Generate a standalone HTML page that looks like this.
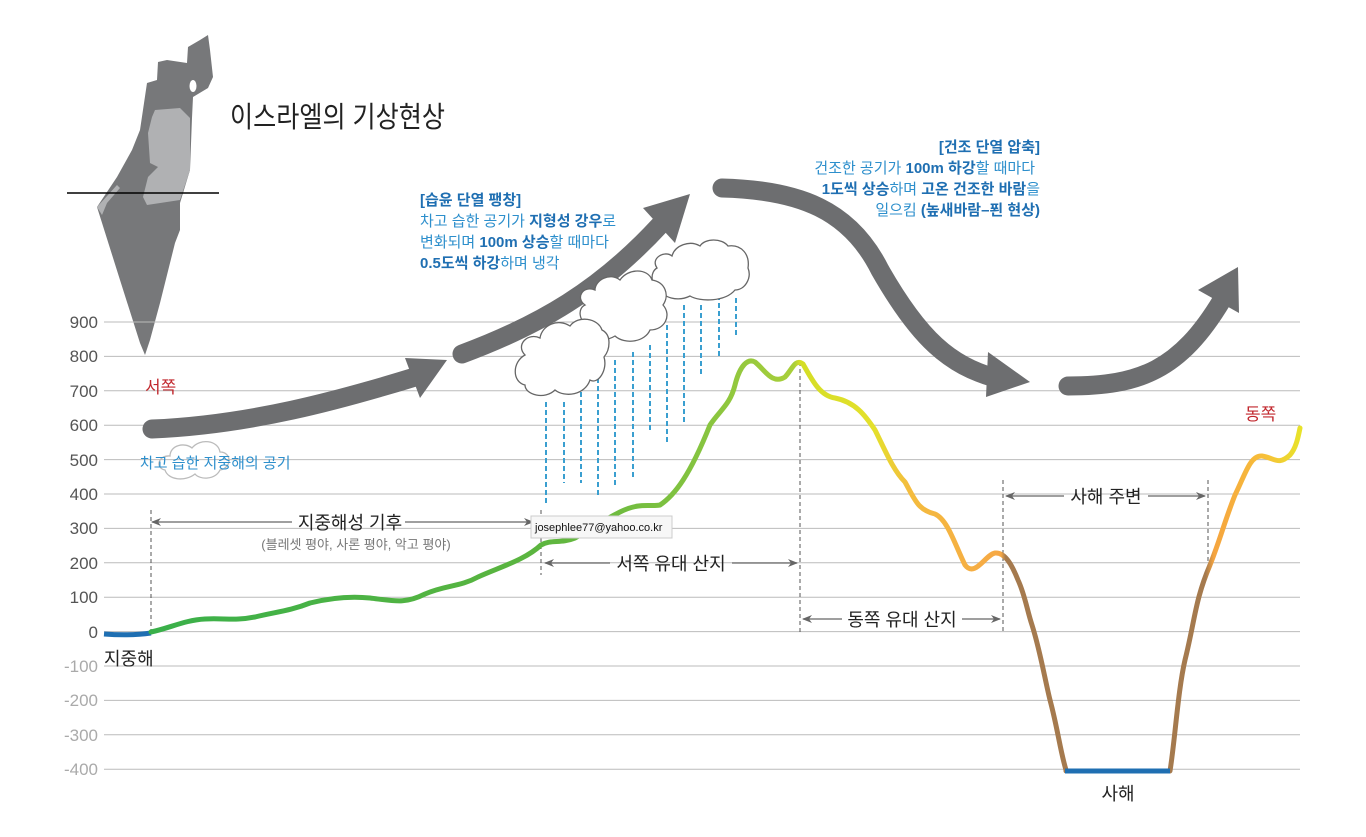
<!DOCTYPE html>
<html><head><meta charset="utf-8"><style>
body{margin:0;background:#fff}
svg text{font-family:"Liberation Sans","Noto Sans CJK KR",sans-serif}
</style></head><body>
<svg width="1366" height="832" viewBox="0 0 1366 832" xmlns="http://www.w3.org/2000/svg">
<defs>
<linearGradient id="tg" gradientUnits="userSpaceOnUse" x1="150" y1="0" x2="1300" y2="0">
<stop offset="0" stop-color="#39b04a"/>
<stop offset="0.34" stop-color="#5cb53f"/>
<stop offset="0.48" stop-color="#86c440"/>
<stop offset="0.56" stop-color="#a9cf3a"/>
<stop offset="0.565" stop-color="#d4de26"/>
<stop offset="0.63" stop-color="#e4e02c"/>
<stop offset="0.66" stop-color="#f4bc3e"/>
<stop offset="0.74" stop-color="#f6a845"/>
<stop offset="0.744" stop-color="#a57a4e"/>
<stop offset="0.918" stop-color="#a57a4e"/>
<stop offset="0.925" stop-color="#f5a43f"/>
<stop offset="0.97" stop-color="#f7c03a"/>
<stop offset="1" stop-color="#e8e22a"/>
</linearGradient>
<marker id="ah" markerWidth="10" markerHeight="8" refX="9" refY="4" orient="auto" markerUnits="userSpaceOnUse"><path d="M0,0 L10,4 L0,8 L3,4 Z" fill="#666"/></marker>
<marker id="ahs" markerWidth="10" markerHeight="8" refX="1" refY="4" orient="auto" markerUnits="userSpaceOnUse"><path d="M10,0 L0,4 L10,8 L7,4 Z" fill="#666"/></marker>
</defs>

<!-- map -->
<path d="M208,35 L210,50 L213,77 L208,88 L193,97 L192,118 L190,170 L180,203 L180,230 L175,243 L160,303 L150,340 L145,355 L140,343 L120,280 L97,207 L117,177 L132,150 L140,130 L147,83 L157,80 L158,62 L167,60 L187,63 L188,47 L200,40 Z" fill="#77787a"/>
<path d="M155,110 L180,108 L190,118 L190,170 L180,200 L147,205 L143,197 L148,177 L158,167 L150,163 L148,133 L152,117 Z" fill="#b0b1b3"/>
<path d="M97,207 L117,185 L120,188 L107,203 L102,215 Z" fill="#b0b1b3"/>
<ellipse cx="193" cy="86" rx="3.5" ry="6" fill="#fff"/>
<line x1="67" y1="193" x2="219" y2="193" stroke="#000" stroke-width="1.5"/>
<text x="230" y="127" font-size="29" fill="#222" textLength="215" lengthAdjust="spacingAndGlyphs">이스라엘의 기상현상</text>

<!-- grid -->
<g stroke="#bbb" stroke-width="1">
<line x1="104" y1="322" x2="1300" y2="322"/><line x1="104" y1="356.4" x2="1300" y2="356.4"/>
<line x1="104" y1="390.8" x2="1300" y2="390.8"/><line x1="104" y1="425.2" x2="1300" y2="425.2"/>
<line x1="104" y1="459.6" x2="1300" y2="459.6"/><line x1="104" y1="494" x2="1300" y2="494"/>
<line x1="104" y1="528.4" x2="1300" y2="528.4"/><line x1="104" y1="562.8" x2="1300" y2="562.8"/>
<line x1="104" y1="597.2" x2="1300" y2="597.2"/><line x1="104" y1="631.6" x2="1300" y2="631.6"/>
<line x1="104" y1="666" x2="1300" y2="666"/><line x1="104" y1="700.4" x2="1300" y2="700.4"/>
<line x1="104" y1="734.8" x2="1300" y2="734.8"/><line x1="104" y1="769.2" x2="1300" y2="769.2"/>
</g>
<g font-size="17" text-anchor="end">
<text x="98" y="328" fill="#555">900</text><text x="98" y="362" fill="#555">800</text>
<text x="98" y="397" fill="#555">700</text><text x="98" y="431" fill="#555">600</text>
<text x="98" y="466" fill="#555">500</text><text x="98" y="500" fill="#555">400</text>
<text x="98" y="534" fill="#555">300</text><text x="98" y="569" fill="#555">200</text>
<text x="98" y="603" fill="#555">100</text><text x="98" y="638" fill="#555">0</text>
<text x="98" y="672" fill="#aaa">-100</text><text x="98" y="706" fill="#aaa">-200</text>
<text x="98" y="741" fill="#aaa">-300</text><text x="98" y="775" fill="#aaa">-400</text>
</g>

<!-- dashed verticals -->
<g stroke="#555" stroke-width="1" stroke-dasharray="4,3">
<line x1="151" y1="510" x2="151" y2="632"/><line x1="541" y1="510" x2="541" y2="575"/>
<line x1="800" y1="362" x2="800" y2="632"/><line x1="1003" y1="480" x2="1003" y2="632"/>
<line x1="1208" y1="480" x2="1208" y2="565"/>
</g>
<!-- dimension arrows -->
<g stroke="#666" stroke-width="1.2" fill="none">
<line x1="152" y1="522" x2="292" y2="522" marker-start="url(#ahs)"/><line x1="405" y1="522" x2="533" y2="522" marker-end="url(#ah)"/>
<line x1="545" y1="563" x2="610" y2="563" marker-start="url(#ahs)"/><line x1="732" y1="563" x2="797" y2="563" marker-end="url(#ah)"/>
<line x1="803" y1="619" x2="842" y2="619" marker-start="url(#ahs)"/><line x1="962" y1="619" x2="1000" y2="619" marker-end="url(#ah)"/>
<line x1="1006" y1="496" x2="1064" y2="496" marker-start="url(#ahs)"/><line x1="1148" y1="496" x2="1205" y2="496" marker-end="url(#ah)"/>
</g>
<text x="350" y="529" font-size="18" fill="#222" text-anchor="middle">지중해성 기후</text>
<text x="356" y="549" font-size="13" fill="#777" text-anchor="middle">(블레셋 평야, 사론 평야, 악고 평야)</text>
<text x="671" y="570" font-size="18" fill="#222" text-anchor="middle">서쪽 유대 산지</text>
<text x="902" y="626" font-size="18" fill="#222" text-anchor="middle">동쪽 유대 산지</text>
<text x="1106" y="503" font-size="18" fill="#222" text-anchor="middle">사해 주변</text>

<!-- terrain -->
<path d="M104,634 Q130,636 151,633" stroke="#1f6fb2" stroke-width="5" fill="none"/>
<path d="M151,632 C170,628 185,620 205,619 C225,618 235,621 255,617 C275,612 290,611 310,603 C330,598 350,596 370,598 C395,601 405,604 425,594 C445,585 460,587 478,577 C500,567 525,560 541,545 C552,539 560,544 575,538 C590,530 600,522 620,512 C640,502 650,507 660,505 C675,495 690,475 710,425 C720,410 730,405 735,385 C740,365 748,358 755,362 C765,370 772,385 785,377 C792,370 795,358 803,364 C812,380 820,396 835,398 C855,402 865,415 875,430 C885,450 893,470 905,482 C915,500 918,510 935,514 C948,520 955,545 965,565 C975,578 985,555 995,553 C1005,552 1012,565 1018,580 C1025,595 1027,610 1032,625 C1040,650 1045,680 1050,700 C1058,730 1060,750 1066,770 L1066,771 M1170,771 C1175,740 1178,690 1185,660 C1195,620 1195,600 1210,565 C1220,540 1225,520 1235,495 C1245,475 1250,455 1262,456 C1275,458 1278,466 1290,455 C1296,448 1298,438 1300,428" stroke="url(#tg)" stroke-width="5" fill="none" stroke-linecap="round"/>
<line x1="1065" y1="771" x2="1170" y2="771" stroke="#1f6fb2" stroke-width="5"/>
<text x="104" y="665" font-size="18" fill="#222">지중해</text>
<text x="1118" y="800" font-size="18" fill="#222" text-anchor="middle">사해</text>
<text x="145" y="393" font-size="17" fill="#c1272d">서쪽</text>
<text x="1245" y="420" font-size="17" fill="#c1272d">동쪽</text>

<!-- small cloud -->
<path d="M165,470 C155,468 158,455 170,456 C170,445 185,442 192,448 C200,438 218,440 220,452 C232,452 232,468 220,470 C215,480 200,480 195,474 C185,482 168,480 165,470 Z" fill="none" stroke="#bbb" stroke-width="1.3"/>
<text x="140" y="468" font-size="15" fill="#2d8fcc">차고 습한 지중해의 공기</text>

<!-- big arrows -->
<g stroke="#6d6e70" stroke-width="19" fill="none" stroke-linecap="round">
<path d="M152,429 C250,425 340,400 415,377"/>
<path d="M462,354 C540,325 600,290 660,225"/>
<path d="M722,188 C800,190 850,210 880,270 C920,340 950,365 995,378"/>
<path d="M1068,386 C1140,386 1180,370 1222,300"/>
</g>
<g fill="#6d6e70">
<path d="M405,358 L447,360 L420,398 Z"/>
<path d="M643,208 L690,194 L675,243 Z"/>
<path d="M988,352 L1030,382 L986,397 Z"/>
<path d="M1198,290 L1238,267 L1239,313 Z"/>
</g>

<!-- rain -->
<g stroke="#3a9fd0" stroke-width="2" stroke-dasharray="5,3">
<line x1="546" y1="402" x2="546" y2="505"/><line x1="564" y1="402" x2="564" y2="483"/>
<line x1="581" y1="392" x2="581" y2="483"/><line x1="598" y1="370" x2="598" y2="495"/>
<line x1="615" y1="360" x2="615" y2="485"/><line x1="633" y1="352" x2="633" y2="477"/>
<line x1="650" y1="345" x2="650" y2="430"/><line x1="667" y1="325" x2="667" y2="445"/>
<line x1="684" y1="305" x2="684" y2="422"/><line x1="701" y1="305" x2="701" y2="377"/>
<line x1="719" y1="295" x2="719" y2="357"/><line x1="736" y1="298" x2="736" y2="336"/>
</g>
<!-- clouds -->
<g fill="#fff" stroke="#666" stroke-width="1.3">
<path d="M657,268 C650,258 665,250 672,256 C675,245 690,240 700,246 C705,238 722,238 728,246 C742,244 750,255 748,268 C752,278 745,290 735,290 C725,302 700,302 690,296 C678,302 662,298 660,288 C650,285 650,272 657,268 Z"/>
<path d="M585,305 C575,298 583,285 595,290 C595,280 610,272 620,280 C628,268 648,268 652,280 C665,282 670,295 663,305 C672,315 665,330 650,330 C645,342 625,345 615,336 C600,345 585,335 588,325 C578,320 578,308 585,305 Z"/>
<path d="M525,355 C515,345 528,332 540,338 C542,325 558,318 570,326 C578,315 598,318 602,330 C612,335 610,350 604,357 C608,370 598,385 590,380 C585,395 565,398 555,390 C545,400 525,395 525,385 C512,382 512,362 525,355 Z"/>
</g>

<!-- texts -->
<g font-size="15" fill="#2d8fcc">
<text x="420" y="205" font-weight="bold" fill="#1f6fb2">[습윤 단열 팽창]</text>
<text x="420" y="226">차고 습한 공기가 <tspan font-weight="bold" fill="#1f6fb2">지형성 강우</tspan>로</text>
<text x="420" y="247">변화되며 <tspan font-weight="bold" fill="#1f6fb2">100m 상승</tspan>할 때마다</text>
<text x="420" y="268"><tspan font-weight="bold" fill="#1f6fb2">0.5도씩 하강</tspan>하며 냉각</text>
</g>
<g font-size="15" fill="#2d8fcc" text-anchor="end">
<text x="1040" y="152" font-weight="bold" fill="#1f6fb2">[건조 단열 압축]</text>
<text x="1035" y="173">건조한 공기가 <tspan font-weight="bold" fill="#1f6fb2">100m 하강</tspan>할 때마다</text>
<text x="1040" y="194"><tspan font-weight="bold" fill="#1f6fb2">1도씩 상승</tspan>하며 <tspan font-weight="bold" fill="#1f6fb2">고온 건조한 바람</tspan>을</text>
<text x="1040" y="215">일으킴 <tspan font-weight="bold" fill="#1f6fb2">(높새바람–푄 현상)</tspan></text>
</g>

<!-- tooltip -->
<rect x="531" y="516" width="141" height="22" fill="#f7f7f7" stroke="#ccc"/>
<text x="535" y="531" font-size="11" fill="#111">josephlee77@yahoo.co.kr</text>
</svg>
</body></html>
